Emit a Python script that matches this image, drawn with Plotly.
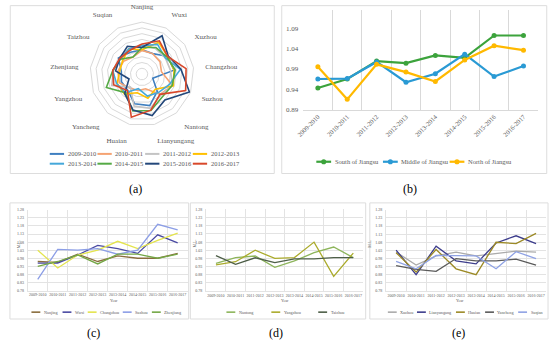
import plotly.graph_objects as go

W, H = 550, 348
FONT = "Liberation Serif"
GREY = "#595959"
GRID = "#D9D9D9"

# ---------------- data ----------------
years = ["2009-2010", "2010-2011", "2011-2012", "2012-2013",
         "2013-2014", "2014-2015", "2015-2016", "2016-2017"]

# (b) regional ML index
south_region = [0.943, 0.965, 1.009, 1.004, 1.023, 1.017, 1.072, 1.072]
middle_region = [0.965, 0.966, 1.007, 0.957, 0.978, 1.026, 0.971, 0.997]
north_region = [0.995, 0.915, 1.001, 0.982, 0.959, 1.012, 1.047, 1.036]
region_names = ["South of Jiangsu", "Middle of Jiangsu", "North of Jiangsu"]

# city ML index by year
nanjing = [0.960, 0.955, 1.005, 0.960, 0.995, 0.980, 0.980, 1.010]
wuxi = [0.950, 0.950, 1.000, 1.060, 1.040, 1.010, 1.125, 1.075]
changzhou = [1.030, 0.920, 1.000, 1.030, 1.085, 1.040, 1.090, 1.135]
suzhou = [0.850, 1.035, 1.030, 1.040, 1.005, 1.030, 1.190, 1.155]
zhenjiang = [0.930, 0.960, 1.000, 0.945, 1.005, 1.005, 0.980, 1.005]
nantong = [0.950, 0.985, 0.995, 0.925, 0.965, 1.015, 1.050, 0.985]
yangzhou = [0.940, 0.960, 1.030, 0.980, 0.985, 1.080, 0.870, 1.013]
taizhou = [0.997, 0.944, 0.984, 0.954, 0.977, 0.977, 0.985, 0.985]
xuzhou = [1.020, 0.940, 0.996, 1.020, 0.996, 1.012, 1.026, 1.020]
lianyungang = [1.032, 0.881, 1.056, 0.966, 0.947, 1.076, 1.120, 1.072]
huaian = [1.016, 0.897, 1.036, 0.917, 0.881, 1.080, 1.072, 1.135]
yancheng = [0.937, 0.913, 0.901, 0.980, 0.966, 0.966, 0.976, 0.940]
suqian = [0.963, 0.917, 0.999, 0.996, 0.996, 0.917, 1.022, 0.980]

south_cities = ["Nanjing", "Wuxi", "Changzhou", "Suzhou", "Zhenjiang"]
middle_cities = ["Nantong", "Yangzhou", "Taizhou"]
north_cities = ["Xuzhou", "Lianyungang", "Huaian", "Yancheng", "Suqian"]
radar_cities = ["Nanjing", "Wuxi", "Xuzhou", "Changzhou", "Suzhou", "Nantong",
                "Lianyungang", "Huaian", "Yancheng", "Yangzhou", "Zhenjiang",
                "Taizhou", "Suqian"]

city_values = {
    "Nanjing": nanjing, "Wuxi": wuxi, "Changzhou": changzhou, "Suzhou": suzhou,
    "Zhenjiang": zhenjiang, "Nantong": nantong, "Yangzhou": yangzhou,
    "Taizhou": taizhou, "Xuzhou": xuzhou, "Lianyungang": lianyungang,
    "Huaian": huaian, "Yancheng": yancheng, "Suqian": suqian,
}

# ---------------- styles ----------------
year_colors = ["#3F7FC0", "#F5A373", "#C4C4C4", "#FFC000",
               "#45A8DA", "#55AA45", "#23477A", "#D8482B"]
region_colors = ["#3CA33C", "#2A9AD4", "#FFB900"]
south_colors = ["#8A6D3D", "#4A4AA2", "#E4E44E", "#8C9EE6", "#74A746"]
middle_colors = ["#8DB55B", "#ABAB2C", "#4E5F48"]
north_colors = ["#ABABAB", "#3D3D8C", "#9C8A26", "#5A5A5A", "#8FA2E4"]


def X(px):
    return px / W


def Y(py):
    return 1 - py / H


fig = go.Figure()

# ---------------- (a) radar ----------------
for i, yr in enumerate(years):
    r = [city_values[c][i] for c in radar_cities]
    fig.add_trace(go.Scatterpolar(
        r=r + [r[0]], theta=radar_cities + [radar_cities[0]],
        mode="lines", name=yr, line=dict(color=year_colors[i], width=1.6),
        showlegend=False, subplot="polar"))

cx, cy, R = 136.7, 72.5, 53
fig.update_layout(polar=dict(
    domain=dict(x=[X(cx - R), X(cx + R)], y=[Y(cy + R), Y(cy - R)]),
    bgcolor="rgba(0,0,0,0)",
    gridshape="linear",
    radialaxis=dict(range=[0.75, 1.2], dtick=0.05, tick0=0.75,
                    showticklabels=False, ticks="", showline=False,
                    gridcolor=GRID, gridwidth=1),
    angularaxis=dict(rotation=90, direction="clockwise", showgrid=False,
                     showline=True, linecolor=GRID, linewidth=1,
                     ticks="outside", ticklen=10, tickcolor="rgba(0,0,0,0)",
                     tickfont=dict(family=FONT, size=7, color=GREY)),
))

# ---------------- (b) regional lines ----------------
for name, vals, col in zip(region_names, [south_region, middle_region, north_region], region_colors):
    fig.add_trace(go.Scatter(
        x=years, y=vals, mode="lines+markers", name=name,
        line=dict(color=col, width=2.2), marker=dict(color=col, size=5),
        showlegend=False, xaxis="x", yaxis="y"))

fig.update_layout(
    xaxis=dict(domain=[X(300), X(538)], anchor="y", type="category",
               categoryorder="array", categoryarray=years, range=[-0.5, 7.5],
               tickson="boundaries", showgrid=True, gridcolor=GRID, gridwidth=1,
               showline=True, linecolor=GRID, ticks="", tickangle=-45,
               tickfont=dict(family=FONT, size=6.5, color=GREY)),
    yaxis=dict(domain=[Y(108.7), Y(7)], anchor="x", range=[0.89, 1.135],
               tickvals=[0.89, 0.94, 0.99, 1.04, 1.09], tickformat=".2f",
               showgrid=False, zeroline=False, showline=False, ticks="",
               ticklabelstandoff=4,
               tickfont=dict(family=FONT, size=7, color=GREY)),
)

# ---------------- (c) (d) (e) city lines ----------------
small_panels = [
    ("x2", "y2", south_cities, south_colors, (21, 183), (211, 293.5)),
    ("x3", "y3", middle_cities, middle_colors, (201.7, 360.7), (210.7, 294)),
    ("x4", "y4", north_cities, north_colors, (384, 546), (211, 294)),
]
SG = "#E3E3E3"
for xa, ya, cities, cols, (x0, x1), (y0, y1) in small_panels:
    for c, col in zip(cities, cols):
        fig.add_trace(go.Scatter(
            x=years, y=city_values[c], mode="lines", name=c,
            line=dict(color=col, width=1.3), showlegend=False,
            xaxis=xa, yaxis=ya))
    n = xa[1:]
    fig.layout["xaxis" + n] = dict(
        domain=[X(x0), X(x1)], anchor=ya, type="category",
        categoryorder="array", categoryarray=years, range=[-0.5, 7.5],
        tickson="boundaries", showgrid=True, gridcolor=SG, gridwidth=0.8,
        showline=True, linecolor=SG, ticks="", ticklen=0, tickangle=0,
        ticklabelstandoff=0,
        tickfont=dict(family=FONT, size=4, color=GREY))
    fig.layout["yaxis" + n] = dict(
        domain=[Y(y1), Y(y0)], anchor=xa, range=[0.78, 1.28],
        tick0=0.78, dtick=0.05, tickformat=".2f",
        showgrid=True, gridcolor=SG, gridwidth=0.8, zeroline=False,
        showline=True, linecolor=SG, ticks="", ticklabelstandoff=2,
        tickfont=dict(family=FONT, size=4, color=GREY))

# ---------------- panel frames, labels, legends ----------------
shapes = []
annotations = []

frames = [(3.3, 2.7, 270.7, 174), (278.3, 2.7, 546.7, 174),
          (3, 204, 184, 322.5), (185.7, 204, 363.3, 322.5), (367.5, 204, 548, 322.5)]
for (l, t, r, b) in frames:
    shapes.append(dict(type="rect", xref="paper", yref="paper",
                       x0=X(l), x1=X(r), y0=Y(b), y1=Y(t),
                       line=dict(color="#DDDDDD", width=1), layer="below"))

for lab, px, py in [("(a)", 130, 190), ("(b)", 408, 190),
                    ("(c)", 88, 337), ("(d)", 272, 337), ("(e)", 457, 337)]:
    annotations.append(dict(text=lab, x=X(px), y=Y(py), xref="paper", yref="paper",
                            showarrow=False, xanchor="center", yanchor="middle",
                            font=dict(family=FONT, size=12, color="black")))

# small chart axis titles
for (x0, x1), mlx in [((21, 183), 8), ((201.7, 360.7), 190), ((384, 546), 372)]:
    annotations.append(dict(text="Year", x=X((x0 + x1) / 2), y=Y(308),
                            xref="paper", yref="paper", showarrow=False,
                            font=dict(family=FONT, size=4, color=GREY)))
    annotations.append(dict(text="M.L.", x=X(mlx), y=Y(252), textangle=-90,
                            xref="paper", yref="paper", showarrow=False,
                            font=dict(family=FONT, size=4, color=GREY)))


def legend_item(px, py, name, col, sw, fs, lw, marker=False):
    shapes.append(dict(type="line", xref="paper", yref="paper",
                       x0=X(px), x1=X(px + sw), y0=Y(py), y1=Y(py),
                       line=dict(color=col, width=lw)))
    if marker:
        m = 2.6
        mx = px + sw / 2
        shapes.append(dict(type="circle", xref="paper", yref="paper",
                           x0=X(mx - m), x1=X(mx + m), y0=Y(py + m), y1=Y(py - m),
                           fillcolor=col, line=dict(color=col, width=0)))
    annotations.append(dict(text=name, x=X(px + sw + 1.5), y=Y(py), xref="paper",
                            yref="paper", showarrow=False, xanchor="left",
                            yanchor="middle",
                            font=dict(family=FONT, size=fs, color=GREY)))


# (a) legend: two rows of four
for i, yr in enumerate(years):
    row, col_i = divmod(i, 4)
    legend_item(43.3 + 48.3 * col_i, 154 + 10 * row, yr, year_colors[i], 14.5, 6.5, 2)

# (b) legend
for i, (name, col) in enumerate(zip(region_names, region_colors)):
    legend_item(313.3 + 67.5 * i, 162, name, col, 15, 6.5, 2.2, marker=True)


# (c)(d)(e) legends centred under their plots
def small_legend(names, cols, centre, gap):
    sw, fs, cw = 9, 4.2, 2.0
    widths = [sw + 1.5 + cw * len(nm) for nm in names]
    total = sum(widths) + gap * (len(names) - 1)
    px = centre - total / 2
    for nm, col, w in zip(names, cols, widths):
        legend_item(px, 315.5, nm, col, sw, fs, 1.6)
        px += w + gap


small_legend(south_cities, south_colors, 100, 7)
small_legend(middle_cities, middle_colors, 281, 21)
small_legend(north_cities, north_colors, 463, 7)

fig.update_layout(
    width=W, height=H, margin=dict(l=0, r=0, t=0, b=0),
    paper_bgcolor="white", plot_bgcolor="rgba(0,0,0,0)",
    showlegend=False, shapes=shapes, annotations=annotations,
    font=dict(family=FONT, color=GREY),
)

fig.write_html("out.html", config={"displayModeBar": False},
               post_script="document.body.style.margin='0px';")
